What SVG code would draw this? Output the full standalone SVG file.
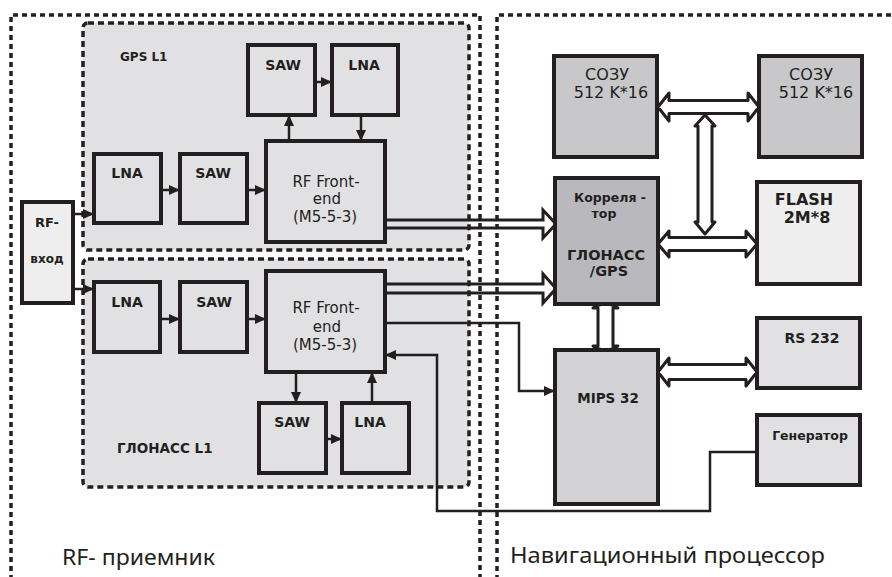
<svg xmlns="http://www.w3.org/2000/svg" width="892" height="577" viewBox="0 0 892 577">
<defs>
<marker id="ah" markerUnits="userSpaceOnUse" markerWidth="12" markerHeight="12" viewBox="0 0 12 12" refX="11" refY="6" orient="auto">
<path d="M0,1 L11,6 L0,11 Z" fill="#231f20"/>
</marker>
<style>
.bg{fill:#fff}
.zone{fill:none;stroke:#231f20;stroke-width:3.5;stroke-dasharray:5 4}
.sub{fill:#e1e1e3;stroke:#231f20;stroke-width:3.5;stroke-dasharray:6 4}
.box{stroke:#231f20;stroke-width:4}
.g1{fill:#e1e1e3}
.g0{fill:#eeeeef}
.gc{fill:#b9b9bd}
.gs{fill:#c8c8ca}
.gm{fill:#d2d2d4}
.conn{fill:none;stroke:#231f20;stroke-width:2.5;marker-end:url(#ah)}
.bus{fill:#fff;stroke:#231f20;stroke-width:3;stroke-linejoin:round}
.wide{fill:none;stroke:#231f20;stroke-width:3;stroke-linejoin:miter}
text{font-family:"DejaVu Sans","Noto Sans",sans-serif;fill:#231f20;text-anchor:middle}
.lb{font-size:14px;font-weight:bold}
.ln{font-size:15px}
.big{font-size:21px;text-anchor:start;font-family:"Noto Sans","DejaVu Sans",sans-serif}
</style>
</defs>
<rect class="bg" x="0" y="0" width="892" height="577"/>
<g id="zones">
<path class="zone" d="M11,580 V15 H480 V580"/>
<path class="zone" d="M497,580 V15 H895"/>
<rect class="sub" x="83" y="23" width="386" height="227" rx="5"/>
<rect class="sub" x="83" y="259" width="386" height="228" rx="5"/>
<text class="lb" x="120" y="61" style="font-size:12px;text-anchor:start">GPS L1</text>
<text class="lb" x="117" y="453" style="font-size:13.5px;text-anchor:start">ГЛОНАСС L1</text>
<text class="big" x="62" y="565" textLength="153" lengthAdjust="spacingAndGlyphs">RF- приемник</text>
<text class="big" x="510" y="563" textLength="315" lengthAdjust="spacingAndGlyphs">Навигационный процессор</text>
</g>
<g id="connectors">
<path class="conn" d="M73,214 H94"/>
<path class="conn" d="M161,190 H180"/>
<path class="conn" d="M247,190 H266"/>
<path class="conn" d="M289,141 V115"/>
<path class="conn" d="M315,82 H332"/>
<path class="conn" d="M361,115 V141"/>
<path class="conn" d="M73,289 H94"/>
<path class="conn" d="M160,319 H180"/>
<path class="conn" d="M247,319 H266"/>
<path class="conn" d="M296,372 V403"/>
<path class="conn" d="M326,439 H342"/>
<path class="conn" d="M372,403 V372"/>
<path class="conn" d="M385,323 H519 V391 H555"/>
<path class="conn" d="M757,452 H710 V511 H437 V355 H385"/>
<path class="wide" d="M385,220 H543 V210 L556,224 L543,238 V228 H385"/>
<path class="wide" d="M385,284 H543 V274 L556,288.5 L543,303 V293 H385"/>
<path class="bus" d="M658,107 L669,93 V100.5 H748 V93 L759,107 L748,121 V113.5 H669 V121 Z"/>
<path class="bus" d="M705,115 L715,126 H712 V222 H715 L705,234 L695,222 H698 V126 H695 Z"/>
<path class="bus" d="M658,244 L669,231 V237.5 H746 V231 L757,244 L746,257 V250.5 H669 V257 Z"/>
<path class="bus" d="M605.5,304 Q612,304 618,308 H613 V346 H618 Q612,350 605.5,350 Q599,350 593,346 H598 V308 H593 Q599,304 605.5,304 Z"/>
<path class="bus" d="M658,372 L669,358 V364.5 H746 V358 L757,372 L746,386 V379.5 H669 V386 Z"/>
</g>
<g id="rf-in"><rect class="box g0" x="22" y="202" width="51" height="101"/><text class="lb" x="47" y="227" style="font-size:13px">RF-</text><text class="lb" x="47" y="263" style="font-size:12px">вход</text></g>
<g id="gps-lna"><rect class="box g1" x="94" y="154" width="67" height="69"/><text class="lb" x="127" y="178">LNA</text></g>
<g id="gps-saw"><rect class="box g1" x="180" y="154" width="67" height="69"/><text class="lb" x="213" y="178">SAW</text></g>
<g id="gps-rf"><rect class="box g1" x="266" y="141" width="119" height="101"/><text class="ln" x="326" y="187">RF Front-</text><text class="ln" x="327" y="204">end</text><text class="ln" x="325" y="222">(M5-5-3)</text></g>
<g id="gps-saw2"><rect class="box g1" x="248" y="45" width="67" height="70"/><text class="lb" x="283" y="70">SAW</text></g>
<g id="gps-lna2"><rect class="box g1" x="332" y="45" width="66" height="70"/><text class="lb" x="364" y="70">LNA</text></g>
<g id="gl-lna"><rect class="box g1" x="94" y="282" width="66" height="70"/><text class="lb" x="127" y="307">LNA</text></g>
<g id="gl-saw"><rect class="box g1" x="180" y="282" width="67" height="70"/><text class="lb" x="214" y="307">SAW</text></g>
<g id="gl-rf"><rect class="box g1" x="266" y="271" width="119" height="101"/><text class="ln" x="326" y="313">RF Front-</text><text class="ln" x="327" y="332">end</text><text class="ln" x="325" y="350">(M5-5-3)</text></g>
<g id="gl-saw2"><rect class="box g1" x="259" y="403" width="67" height="70"/><text class="lb" x="292" y="427">SAW</text></g>
<g id="gl-lna2"><rect class="box g1" x="342" y="403" width="67" height="70"/><text class="lb" x="370" y="427">LNA</text></g>
<g id="sram1"><rect class="box gs" x="554" y="56" width="103" height="101"/><text class="ln" x="607" y="80" style="font-size:16px">СОЗУ</text><text class="ln" x="611" y="98" style="font-size:16px">512 K*16</text></g>
<g id="sram2"><rect class="box gs" x="759" y="56" width="103" height="101"/><text class="ln" x="811" y="80" style="font-size:16px">СОЗУ</text><text class="ln" x="816" y="98" style="font-size:16px">512 K*16</text></g>
<g id="correlator"><rect class="box gc" x="555" y="178" width="103" height="126"/><text class="lb" x="610" y="202" style="font-size:12.5px">Корреля -</text><text class="lb" x="604" y="218" style="font-size:12.5px">тор</text><text class="lb" x="606" y="260" style="font-size:14.5px">ГЛОНАСС</text><text class="lb" x="609" y="276" style="font-size:14.5px">/GPS</text></g>
<g id="flash"><rect class="box g0" x="757" y="182" width="103" height="102"/><text class="lb" x="804" y="205" style="font-size:16px">FLASH</text><text class="lb" x="807" y="223" style="font-size:16px">2M*8</text></g>
<g id="rs232"><rect class="box g1" x="757" y="318" width="103" height="70"/><text class="lb" x="812" y="343">RS 232</text></g>
<g id="mips"><rect class="box gm" x="555" y="350" width="103" height="154"/><text class="lb" x="608" y="403" style="font-size:13.5px">MIPS 32</text></g>
<g id="generator"><rect class="box g1" x="757" y="415" width="103" height="70"/><text class="lb" x="810" y="440" style="font-size:12.5px">Генератор</text></g>
</svg>
